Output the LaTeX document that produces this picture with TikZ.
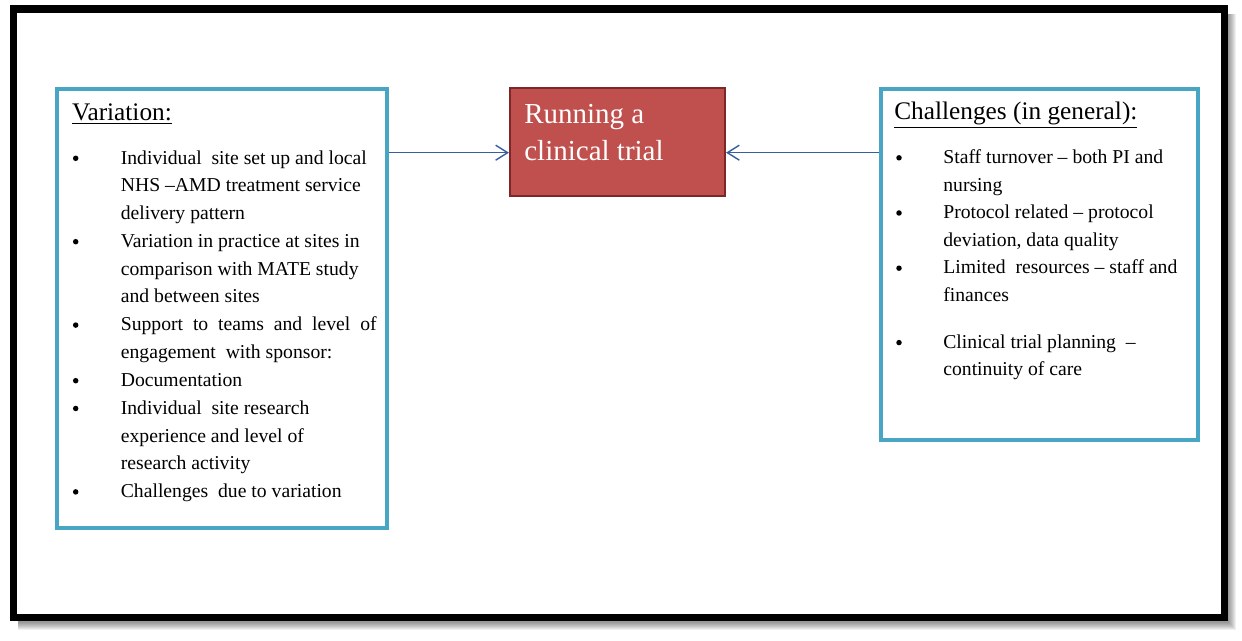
\documentclass[tikz,border=0pt]{standalone}
\usepackage{fontspec}
\setmainfont{Liberation Serif}
\definecolor{trialred}{RGB}{192,80,77}
\definecolor{trialedge}{RGB}{125,40,38}
\definecolor{boxteal}{RGB}{72,165,195}
\definecolor{flowblue}{RGB}{55,95,160}
\usetikzlibrary{arrows.meta,positioning}

\begin{document}
\begin{tikzpicture}[x=0.02cm,y=-0.02cm,
  panel/.style={draw=boxteal,line width=1.8pt,fill=white,inner sep=0pt},
  heading/.style={anchor=base west,inner sep=0pt,font=\fontsize{14.4}{17}\selectfont},
  dot/.style={circle,fill=black,inner sep=0pt,minimum size=0.11cm,yshift=0.114cm},
  item/.style={anchor=base west,inner sep=0pt,align=left,font=\fontsize{11.2}{15.76}\selectfont},
  flow/.style={-{Straight Barb[length=2.4mm,width=3mm]},flowblue,line width=0.8pt}]
  \useasboundingbox (0,0) rectangle (1242,641);
  \fill[white] (0,0) rectangle (1242,641);
  % Outer frame with soft shadow
  \foreach \d in {1,...,8}
    \fill[black,opacity=0.06] (18,14) rectangle (1228+\d,622+\d);
  \draw[line width=0.15cm,fill=white] (13.5,9) rectangle (1224.5,617.5);
  % Three boxes
  \node[panel,minimum width=6.6cm,minimum height=8.78cm] (varbox) at (222,308.5) {};
  \node[panel,minimum width=6.34cm,minimum height=7.02cm] (chalbox) at (1039.5,264.5) {};
  \node[draw=trialedge,fill=trialred,line width=1.2pt,minimum width=4.3cm,minimum height=2.16cm,inner sep=0pt] (trial) at (617.5,142) {};
  % (multi-line nodes sit on the baseline of their last line)
  \node[item,text=white,font=\fontsize{16.5}{21.4}\selectfont] (trialtxt) at (524,161) {Running a\\clinical trial};
  % Connectors into the centre box
  \coordinate (lin) at ([yshift=-0.214cm]trial.west);
  \coordinate (rin) at ([yshift=-0.214cm]trial.east);
  \draw[flow] (varbox.east |- lin) -- (lin);
  \draw[flow] (chalbox.west |- rin) -- (rin);
  % Left box: variation
  \node[heading] (varhead) at (71.7,120.7) {\underline{Variation:}};
  \node[dot] (vdot1) at (75.7,164) {};
  \node[item] (vitem1) at (120.5,219.6) {Individual \ site set up and local\\NHS --AMD treatment service\\delivery pattern};
  \node[dot] (vdot2) at (75.7,247.4) {};
  \node[item] (vitem2) at (120.5,303) {Variation in practice at sites in\\comparison with MATE study\\and between sites};
  \node[dot] (vdot3) at (75.7,330.8) {};
  \node[item] (vitem3) at (120.5,358.6) {Support \ to \ teams \ and \ level \ of\\engagement \ with sponsor:};
  \node[dot] (vdot4) at (75.7,386.4) {};
  \node[item] (vitem4) at (120.5,386.4) {Documentation};
  \node[dot] (vdot5) at (75.7,414.2) {};
  \node[item] (vitem5) at (120.5,469.8) {Individual \ site research\\experience and level of\\research activity};
  \node[dot] (vdot6) at (75.7,497.6) {};
  \node[item] (vitem6) at (120.5,497.6) {Challenges \ due to variation};
  % Right box: challenges
  \node[heading] (chalhead) at (894,119.3) {\underline{Challenges (in general):}};
  \node[dot] (cdot1) at (899,163.5) {};
  \node[item] (citem1) at (943,191.1) {Staff turnover -- both PI and\\nursing};
  \node[dot] (cdot2) at (899,218.7) {};
  \node[item] (citem2) at (943,246.3) {Protocol related -- protocol\\deviation, data quality};
  \node[dot] (cdot3) at (899,273.9) {};
  \node[item] (citem3) at (943,301.5) {Limited \ resources -- staff and\\finances};
  \node[dot] (cdot4) at (899,348.3) {};
  \node[item] (citem4) at (943,375.9) {Clinical trial planning \ --\\continuity of care};
\end{tikzpicture}
\end{document}
